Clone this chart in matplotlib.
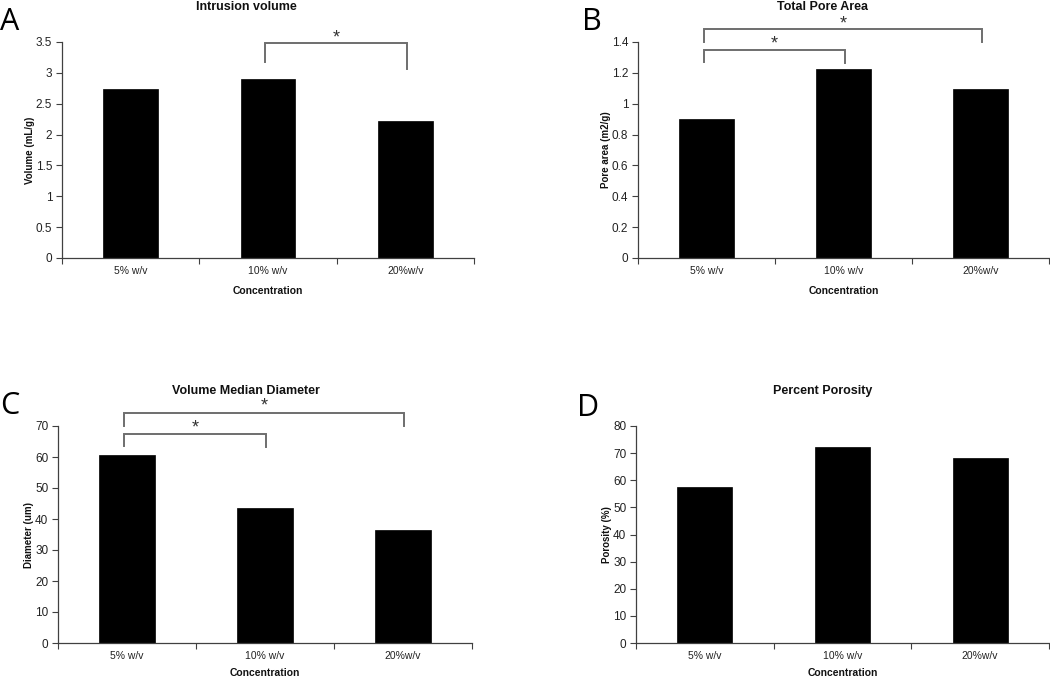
import matplotlib
matplotlib.use("Agg")
import matplotlib.pyplot as plt
import numpy as np

plt.rcParams['font.family'] = ['Liberation Sans', 'DejaVu Sans']

categories = ["5% w/v", "10% w/v", "20%w/v"]

intrusion_volume = [2.74, 2.90, 2.22]
pore_area = [0.90, 1.225, 1.095]
median_diameter = [60.8, 43.7, 36.4]
porosity = [57.6, 72.4, 68.3]

titles = ["Intrusion volume", "Total Pore Area", "Volume Median Diameter", "Percent Porosity"]
ylabels = ["Volume (mL/g)", "Pore area (m2/g)", "Diameter (um)", "Porosity (%)"]
panel_letters = ["A", "B", "C", "D"]
ymax = [3.5, 1.4, 70, 80]
ystep = [0.5, 0.2, 10, 10]

# significance brackets: (i, j, top, left_leg_end, right_leg_end, star_y)
brackets_A = [(1, 2, 3.48, 3.18, 3.06, 3.56)]
brackets_B = [(0, 2, 1.484, 1.40, 1.40, 1.515), (0, 1, 1.348, 1.27, 1.264, 1.39)]
brackets_C = [(0, 2, 74.3, 70.0, 70.0, 76.3), (0, 1, 67.5, 63.5, 63.2, 69.5)]
brackets_D = []

data = [intrusion_volume, pore_area, median_diameter, porosity]
brackets = [brackets_A, brackets_B, brackets_C, brackets_D]

W, H = 1050, 678
fig = plt.figure(figsize=(W / 100, H / 100), dpi=100)

# axes rectangles in pixels: left, top, right, bottom
rects = [(62, 42, 474, 258), (638, 42, 1049, 258), (58, 426, 472, 643), (636, 426, 1049, 643)]
title_x = [0.447, 0.45, 0.455, 0.452]
letter_pos = [(0, 22), (582, 22), (0, 406), (577, 408)]
xlabel_pad = [7, 7, 4.5, 4.5]

axis_col = '#404040'
for k in range(4):
    l, t, r, b = rects[k]
    ax = fig.add_axes([l / W, 1 - b / H, (r - l) / W, (b - t) / H])
    x = np.arange(len(categories))
    ax.bar(x, data[k], width=0.4, color='black', edgecolor='black', linewidth=0.5)
    ax.set_xlim(-0.5, 2.5)
    ax.set_ylim(0, ymax[k])
    yt = np.round(np.arange(0, ymax[k] + ystep[k] / 2, ystep[k]), 3)
    ax.set_yticks(yt)
    ax.set_yticklabels([f"{v:g}" for v in yt])
    ax.set_xticks([-0.5, 0.5, 1.5, 2.5])
    ax.set_xticklabels([])
    ax.set_xticks(x, minor=True)
    ax.set_xticklabels(categories, minor=True)
    ax.tick_params(axis='x', which='minor', length=0, pad=6, labelsize=7.5, labelcolor='#222222')
    ax.tick_params(axis='x', which='major', length=4, width=0.8, color=axis_col, direction='out')
    ax.tick_params(axis='y', length=4, width=0.8, color=axis_col, direction='out', labelsize=8.5,
                   labelcolor='#222222', pad=3)
    for s in ['top', 'right']:
        ax.spines[s].set_visible(False)
    for s in ['left', 'bottom']:
        ax.spines[s].set_color(axis_col)
        ax.spines[s].set_linewidth(0.9)
    ax.set_title(titles[k], x=title_x[k], y=1.0, pad=23, fontsize=9, fontweight='bold', color='#111111')
    ax.set_ylabel(ylabels[k], fontsize=7, fontweight='bold', labelpad=0.5, color='#111111')
    ax.set_xlabel("Concentration", fontsize=7.5, fontweight='bold', labelpad=xlabel_pad[k], color='#111111')

    for (i, j, top, le, re, sy) in brackets[k]:
        xi, xj = x[i] - 0.02, x[j] + 0.01
        ax.plot([xi, xi, xj, xj], [le, top, top, re], color='#6e6e6e', lw=1.4, clip_on=False,
                solid_joinstyle='miter')
        ax.text((xi + xj) / 2, sy, "*", ha='center', va='center', fontsize=13, color='#333333',
                clip_on=False)

    lx, ly = letter_pos[k]
    fig.text(lx / W, 1 - ly / H, panel_letters[k], fontsize=22, ha='left', va='center',
             family=['Open Sans', 'DejaVu Sans'], color='black')

fig.savefig("out.png", dpi=100)
